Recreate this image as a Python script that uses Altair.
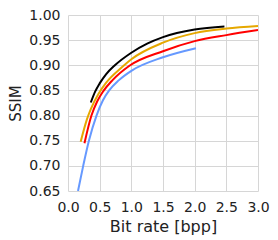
import altair as alt
import pandas as pd

black_x = [0.36, 0.43, 0.50, 0.60, 0.74, 1.00, 1.25, 1.50, 2.00, 2.47]
black_y = [0.826, 0.848, 0.864, 0.882, 0.900, 0.925, 0.943, 0.956, 0.971, 0.977]

orange_x = [0.20, 0.30, 0.36, 0.48, 0.60, 0.85, 1.00, 1.50, 2.00, 2.50, 3.00]
orange_y = [0.748, 0.793, 0.813, 0.843, 0.865, 0.896, 0.912, 0.945, 0.964, 0.973, 0.978]

red_x = [0.26, 0.37, 0.46, 0.56, 0.70, 0.97, 1.50, 2.00, 2.50, 3.00]
red_y = [0.745, 0.800, 0.828, 0.849, 0.870, 0.899, 0.928, 0.948, 0.960, 0.970]

blue_x = [0.158, 0.24, 0.33, 0.45, 0.55, 0.65, 0.80, 1.00, 1.50, 2.02]
blue_y = [0.650, 0.700, 0.750, 0.800, 0.830, 0.850, 0.870, 0.889, 0.916, 0.934]

series = ["black", "orange", "red", "blue"]
colors = ["#000000", "#e6a800", "#ff0000", "#6699ff"]

x_ticks = [0.0, 0.5, 1.0, 1.5, 2.0, 2.5, 3.0]
y_ticks = [0.65, 0.70, 0.75, 0.80, 0.85, 0.90, 0.95, 1.00]

rows = []
for name, xs, ys in [("black", black_x, black_y), ("orange", orange_x, orange_y),
                     ("red", red_x, red_y), ("blue", blue_x, blue_y)]:
    for i, (a, b) in enumerate(zip(xs, ys)):
        rows.append({"s": name, "x": a, "y": b, "o": i})
df = pd.DataFrame(rows)

chart = alt.Chart(df).mark_line(strokeWidth=2, interpolate="monotone", clip=True).encode(
    x=alt.X("x:Q", scale=alt.Scale(domain=[0, 3], nice=False, zero=False),
            axis=alt.Axis(values=x_ticks, format=".1f", title="Bit rate [bpp]",
                          ticks=False, domain=False, labelPadding=9,
                          labelFontSize=14, titleFontSize=16, titlePadding=4,
                          titleFontWeight="normal", labelFlush=False)),
    y=alt.Y("y:Q", scale=alt.Scale(domain=[0.65, 1.0], nice=False, zero=False),
            axis=alt.Axis(values=y_ticks, format=".2f", title="SSIM",
                          ticks=False, domain=False, labelPadding=8,
                          labelFontSize=14, titleFontSize=15, titlePadding=5,
                          titleFontWeight="normal", labelFlush=False)),
    color=alt.Color("s:N", scale=alt.Scale(domain=series, range=colors), legend=None),
    detail="s:N",
    order="o:Q",
).properties(
    width=190, height=176,
    autosize=alt.AutoSizeParams(type="none"),
    padding={"left": 60, "top": 7, "right": 12, "bottom": 49},
).configure_axis(
    gridColor="#d6d6d6", gridWidth=1, labelColor="#222222", titleColor="#222222",
    labelFont="DejaVu Sans", titleFont="DejaVu Sans",
).configure_view(stroke=None)

chart.save("out.html", embed_options={"renderer": "svg", "actions": False})
